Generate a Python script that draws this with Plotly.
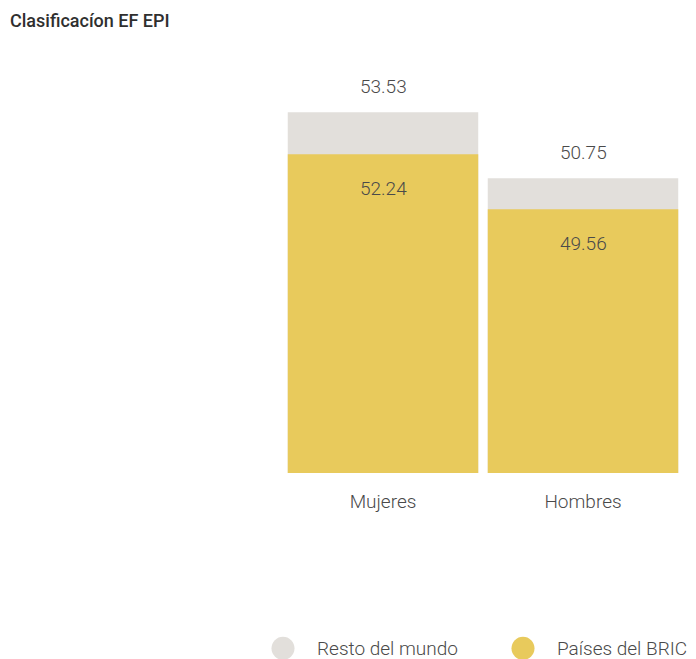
import plotly.graph_objects as go

# Data
categories = ["Mujeres", "Hombres"]
resto_mundo = [53.53, 50.75]
paises_bric = [52.24, 49.56]
series_names = ["Resto del mundo", "Países del BRIC"]

GRAY = "#E2DFDB"
YELLOW = "#E8CA5C"
TEXT = "#4a4a4a"
FONT = "Roboto"

fig = go.Figure()

# Background series on its own axis
fig.add_trace(go.Bar(
    x=categories, y=resto_mundo, name=series_names[0],
    marker=dict(color=GRAY, line=dict(width=0)),
    yaxis="y", showlegend=False, hoverinfo="x+y",
))
# Foreground series on an overlaid axis
fig.add_trace(go.Bar(
    x=categories, y=paises_bric, name=series_names[1],
    marker=dict(color=YELLOW, line=dict(width=0)),
    yaxis="y2", showlegend=False, hoverinfo="x+y",
))

annotations = []
for c, v in zip(categories, resto_mundo):
    annotations.append(dict(
        x=c, y=v, xref="x", yref="y", text=f"{v:.2f}", showarrow=False,
        yanchor="bottom", yshift=12,
        font=dict(family=FONT, size=19, color=TEXT, weight=300),
    ))
for c, v in zip(categories, paises_bric):
    annotations.append(dict(
        x=c, y=v, xref="x", yref="y2", text=f"{v:.2f}", showarrow=False,
        yanchor="top", yshift=-21,
        font=dict(family=FONT, size=19, color=TEXT, weight=300),
    ))

# Legend drawn by hand with round swatches
LEG_Y = -0.405
legend_items = [(series_names[0], GRAY, 0.0, 0.0795), (series_names[1], YELLOW, 0.600, 0.680)]
shapes = []
for name, color, cx, tx in legend_items:
    shapes.append(dict(
        type="circle", xref="paper", yref="paper",
        xsizemode="pixel", ysizemode="pixel",
        xanchor=cx, yanchor=LEG_Y,
        x0=-11.5, x1=11.5, y0=-11.5, y1=11.5,
        fillcolor=color, line=dict(width=0),
    ))
    annotations.append(dict(
        x=tx, y=LEG_Y, xref="paper", yref="paper", text=name,
        showarrow=False, xanchor="left", yanchor="middle",
        font=dict(family=FONT, size=19, color=TEXT, weight=300),
    ))

fig.update_layout(
    width=696, height=659,
    margin=dict(l=283, r=13, t=40, b=186),
    paper_bgcolor="white", plot_bgcolor="white",
    barmode="overlay", bargap=0.0476,
    title=dict(
        text="Clasificacíon EF EPI", x=10 / 696, xref="container", xanchor="left",
        y=1 - 21 / 659, yref="container", yanchor="middle",
        font=dict(family=FONT, size=18, color="#2f2f2f", weight=500),
    ),
    xaxis=dict(
        showgrid=False, zeroline=False, showline=False, ticks="",
        ticklabelstandoff=15,
        tickfont=dict(family=FONT, size=19, color=TEXT, weight=300),
    ),
    yaxis=dict(range=[38.34, 56.57], visible=False, fixedrange=True),
    yaxis2=dict(range=[36.71, 57.80], visible=False, overlaying="y", fixedrange=True),
    annotations=annotations,
    shapes=shapes,
    showlegend=False,
)

fig.write_html("out.html")
